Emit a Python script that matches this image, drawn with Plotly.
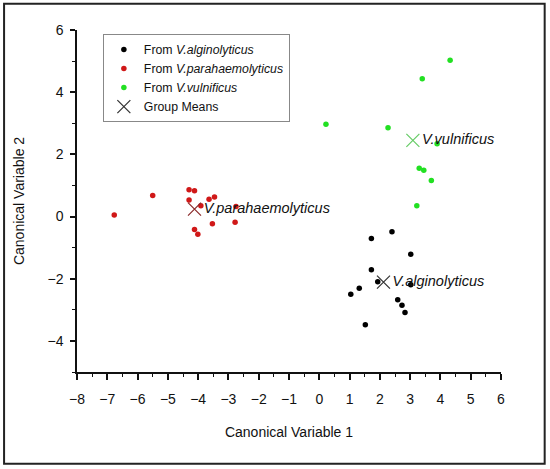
import plotly.graph_objects as go

# ---- data ----
alg_x = [2.40, 1.72, 3.02, 1.72, 1.93, 3.02, 1.32, 1.04, 2.59, 2.73, 2.83, 1.52]
alg_y = [-0.49, -0.71, -1.21, -1.71, -2.10, -2.19, -2.31, -2.50, -2.68, -2.85, -3.09, -3.48]

para_x = [-6.77, -5.50, -4.30, -4.12, -4.30, -3.91, -3.64, -3.46, -2.75, -3.53, -2.78, -4.12, -4.01]
para_y = [0.05, 0.68, 0.86, 0.83, 0.53, 0.35, 0.56, 0.63, 0.32, -0.23, -0.18, -0.42, -0.57]

vul_x = [4.32, 3.40, 0.22, 2.27, 3.89, 3.30, 3.45, 3.70, 3.22]
vul_y = [5.03, 4.43, 2.97, 2.86, 2.34, 1.55, 1.49, 1.16, 0.35]

mean_labels = ["V.alginolyticus", "V.parahaemolyticus", "V.vulnificus"]
mean_x = [2.12, -4.12, 3.09]
mean_y = [-2.11, 0.24, 2.45]

x_ticks = list(range(-8, 7))
y_ticks = [-4, -2, 0, 2, 4, 6]

FONT = "Liberation Sans, Arial, sans-serif"

fig = go.Figure()
fig.add_trace(go.Scatter(x=alg_x, y=alg_y, mode="markers",
                         name="From <i>V.alginolyticus</i>",
                         marker=dict(color="#000000", size=5.5)))
fig.add_trace(go.Scatter(x=para_x, y=para_y, mode="markers",
                         name="From <i>V.parahaemolyticus</i>",
                         marker=dict(color="#d01818", size=5.5)))
fig.add_trace(go.Scatter(x=vul_x, y=vul_y, mode="markers",
                         name="From <i>V.vulnificus</i>",
                         marker=dict(color="#22e022", size=5.5)))
fig.add_trace(go.Scatter(x=mean_x, y=mean_y, mode="markers+text",
                         name="Group Means",
                         text=["<i>" + t + "</i>" for t in mean_labels],
                         textposition="middle right",
                         textfont=dict(family=FONT, size=14.5, color="#111111"),
                         marker=dict(symbol="x-thin-open", size=13,
                                     color=["#333333", "#8a2a2a", "#66cc66"],
                                     line=dict(width=1.2,
                                               color=["#333333", "#8a2a2a", "#66cc66"]))))

fig.update_layout(
    width=550, height=469,
    margin=dict(l=77, r=49, t=30, b=97),
    paper_bgcolor="white", plot_bgcolor="white",
    font=dict(family=FONT, size=14, color="#111111"),
    showlegend=True,
    legend=dict(x=0.061, y=0.988, xanchor="left", yanchor="top",
                bordercolor="#888888", borderwidth=1, bgcolor="white",
                font=dict(family=FONT, size=12.3, color="#111111"),
                tracegroupgap=0, itemwidth=30),
    xaxis=dict(range=[-8, 6], tickvals=x_ticks, showgrid=False, zeroline=False,
               showline=True, linecolor="#111111", linewidth=1.5,
               ticks="outside", ticklen=6, tickwidth=1.5, tickcolor="#111111",
               minor=dict(dtick=0.5, ticks="outside", ticklen=3, tickwidth=1.2,
                          tickcolor="#111111", showgrid=False),
               ticklabelstandoff=7,
               tickfont=dict(family=FONT, size=14),
               title=dict(text="Canonical Variable 1", standoff=22,
                          font=dict(family=FONT, size=14))),
    yaxis=dict(range=[-5, 6], tickvals=y_ticks, showgrid=False, zeroline=False,
               showline=True, linecolor="#111111", linewidth=1.5,
               ticks="outside", ticklen=5, tickwidth=1.5, tickcolor="#111111",
               minor=dict(dtick=1, ticks="outside", ticklen=3, tickwidth=1.2,
                          tickcolor="#111111", showgrid=False),
               ticklabelstandoff=4,
               tickfont=dict(family=FONT, size=14),
               title=dict(text="Canonical Variable 2", standoff=20,
                          font=dict(family=FONT, size=14))),
    shapes=[dict(type="rect", xref="paper", yref="paper",
                 x0=-0.172, x1=1.103, y0=-0.268, y1=1.077,
                 line=dict(color="#222222", width=2), fillcolor="rgba(0,0,0,0)",
                 layer="below")],
)

fig.write_html("out.html",
               config={"displayModeBar": False},
               post_script="document.body.style.margin='0px';document.body.style.overflow='hidden';")
